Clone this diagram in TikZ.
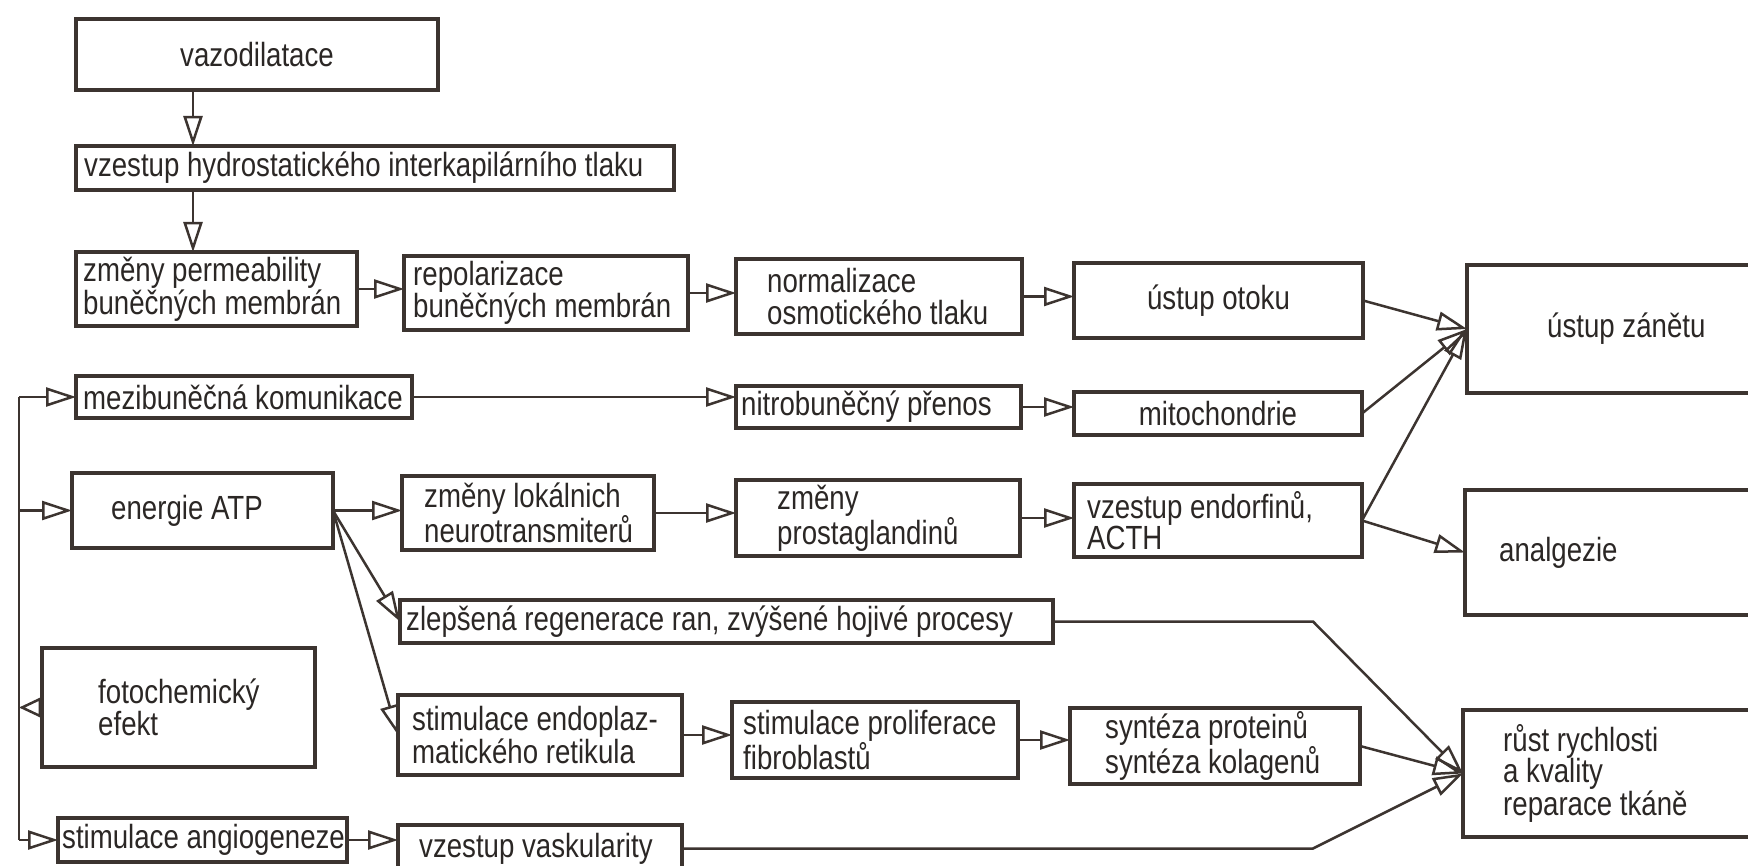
\documentclass[tikz,border=0pt]{standalone}
\usepackage{fontspec}
\setmainfont[FakeStretch=0.825]{Liberation Sans}
\usetikzlibrary{arrows.meta,calc}
\definecolor{ink}{HTML}{3C3430}
\definecolor{txt}{HTML}{2B2725}
% box with left-aligned label: name, x1, y1, x2, y2, indent, text
\newcommand\bxl[7]{%
  \pgfmathsetmacro\bxw{#4-#2}%
  \pgfmathsetmacro\bxh{#5-#3}%
  \node[box, minimum width=\bxw pt, minimum height=\bxh pt, anchor=north west] (#1) at (#2pt,-#3pt) {};%
  \node[lbl, anchor=west, align=left] (#1-t) at ($(#1.west)+(#6pt,0)$) {#7};%
}
% box with centred label
\newcommand\bxc[6]{%
  \pgfmathsetmacro\bxw{#4-#2}%
  \pgfmathsetmacro\bxh{#5-#3}%
  \node[box, minimum width=\bxw pt, minimum height=\bxh pt, anchor=north west] (#1) at (#2pt,-#3pt) {};%
  \node[lbl, align=center] (#1-t) at (#1.center) {#6};%
}
\begin{document}
\begin{tikzpicture}[x=1pt,y=1pt,
  box/.style={draw=ink, line width=3.2pt, fill=white, inner sep=0pt, outer sep=0pt},
  lbl/.style={text=txt, inner sep=0pt, font=\fontsize{33.5}{31.5}\selectfont},
  ln/.style={draw=ink, line width=2.5pt, line join=miter},
  arr/.style={ln, -{Triangle[open, length=30pt, width=19pt]}},
  arrshort/.style={ln, -{Triangle[open, length=22pt, width=20pt]}}]
\useasboundingbox[fill=white] (0,0) rectangle (1748,-866);
% boxes
\bxc{vaz}{76}{19}{438}{90}{vazodilatace}
\bxl{hyd}{76}{146}{674}{190}{8}{vzestup hydrostatického interkapilárního tlaku}
\bxl{perm}{76}{252}{357}{326}{7}{změny permeability\\buněčných membrán}
\bxl{repol}{404}{256}{688}{330}{9}{repolarizace\\buněčných membrán}
\bxl{norm}{736}{259}{1022}{334}{31}{normalizace\\osmotického tlaku}
\bxc{otok}{1074}{263}{1363}{338}{ústup otoku}
\bxl{zanet}{1467}{265}{1756}{393}{80}{ústup zánětu}
\bxl{mezi}{76}{376}{412}{418}{7}{mezibuněčná komunikace}
\bxl{nitro}{736}{386}{1021}{428}{5}{nitrobuněčný přenos}
\bxc{mito}{1074}{392}{1362}{435}{mitochondrie}
\bxl{atp}{72}{473}{333}{548}{39}{energie ATP}
\bxl{lok}{402}{476}{654}{550}{22}{změny lokálnich\\neurotransmiterů}
\bxl{prost}{736}{480}{1020}{556}{41}{změny\\prostaglandinů}
\bxl{endo}{1074}{484}{1362}{557}{13}{vzestup endorfinů,\\ACTH}
\bxl{analg}{1465}{490}{1756}{615}{34}{analgezie}
\bxl{zlep}{400}{600}{1053}{643}{6}{zlepšená regenerace ran, zvýšené hojivé procesy}
\bxl{foto}{42}{648}{315}{767}{56}{fotochemický\\efekt}
\bxl{endopl}{398}{695}{682}{775}{14}{stimulace endoplaz-\\matického retikula}
\bxl{prolif}{732}{702}{1018}{778}{11}{stimulace proliferace\\fibroblastů}
\bxl{synt}{1070}{708}{1360}{784}{35}{syntéza proteinů\\syntéza kolagenů}
\bxl{rust}{1463}{710}{1756}{837}{40}{růst rychlosti\\a kvality\\reparace tkáně}
\bxl{angio}{58}{818}{347}{862}{4}{stimulace angiogeneze}
\bxl{vask}{398}{825}{682}{872}{21}{vzestup vaskularity}
% helper coordinates
\coordinate (bus) at (19,0);
\coordinate (vx) at (193,0);
\coordinate (kink) at (1313,0);
% vertical chain
\draw[arr] (vaz.south -| vx) -- (hyd.north -| vx);
\draw[arr] (hyd.south -| vx) -- (perm.north -| vx);
% row 1
\draw[arr] (perm.east) -- (perm.east -| repol.west);
\draw[arr] (repol.east) -- (repol.east -| norm.west);
\draw[arr] (norm.east) -- (norm.east -| otok.west);
\draw[arr] (otok.east) -- (zanet.west);
% row 2
\draw[arr] (mezi.east) -- (mezi.east -| nitro.west);
\draw[arr] (nitro.east) -- (nitro.east -| mito.west);
\draw[arr] (mito.east) -- (zanet.west);
% row 3
\draw[arr] (atp.east) -- (atp.east -| lok.west);
\draw[arr] (lok.east) -- (lok.east -| prost.west);
\draw[arr] (prost.east) -- (prost.east -| endo.west);
\draw[arr] (endo.east) -- (zanet.west);
\draw[arr] (endo.east) -- (analg.west);
\draw[arr] (atp.east) -- (zlep.west);
\draw[arr] (atp.east) -- (endopl.west);
% rows 4/5
\draw[arr] (zlep.east) -- (zlep.east -| kink) -- (rust.west);
\draw[arr] (endopl.east) -- (endopl.east -| prolif.west);
\draw[arr] (prolif.east) -- (prolif.east -| synt.west);
\draw[arr] (synt.east) -- (rust.west);
\draw[arr] (angio.east) -- (angio.east -| vask.west);
\draw[arr] (vask.east) -- (vask.east -| kink) -- (rust.west);
% left bus
\draw[ln] (mezi.west -| bus) -- (angio.west -| bus);
\draw[arr] (mezi.west -| bus) -- (mezi.west);
\draw[arr] (atp.west -| bus) -- (atp.west);
\draw[arr] (angio.west -| bus) -- (angio.west);
\draw[arrshort] (foto.west) -- (foto.west -| bus);
\end{tikzpicture}
\end{document}
